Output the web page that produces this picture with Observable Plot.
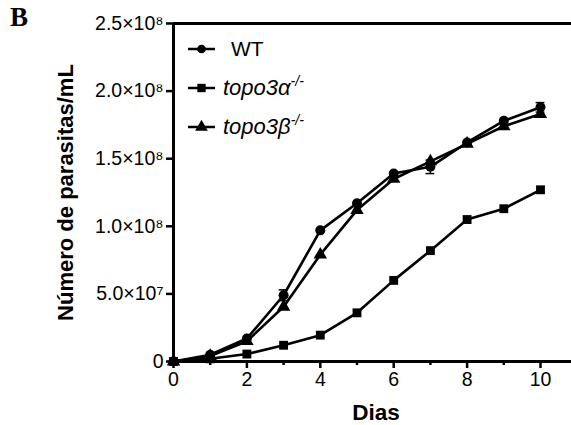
<!DOCTYPE html>
<html>
<head>
<meta charset="utf-8">
<script src="https://cdn.jsdelivr.net/npm/d3@7"></script>
<script src="https://cdn.jsdelivr.net/npm/@observablehq/plot@0.6"></script>
<style>
  body { margin: 0; background: #fff; }
  #wrap { position: relative; width: 571px; height: 425px; font-family: "Liberation Sans", Arial, sans-serif; }
  #wrap svg { position: absolute; left: 0; top: 0; }
  g[aria-label="y-axis label"] text { font-weight: bold; font-size: 22px !important; }
  #panel { position: absolute; left: 10px; top: 4px; font-family: "Liberation Serif", "Times New Roman", serif; font-weight: bold; font-size: 27px; line-height: 1; }
  #legend { position: absolute; left: 186px; top: 36px; font-size: 21px; }
  .row { position: absolute; left: 0; white-space: nowrap; height: 26px; line-height: 26px; }
  .row svg { position: absolute; left: 0; top: 0; }
  .row span { position: absolute; top: 0; }
  .row i { font-size: 22px; }
  sup { font-size: 14px; vertical-align: 0; position: relative; top: -9px; font-style: italic; }
</style>
</head>
<body>
<div id="wrap">
  <div id="panel">B</div>
  <div id="legend"></div>
</div>
<script>
const days = [0, 1, 2, 3, 4, 5, 6, 7, 8, 9, 10];
const wt = [0, 5e6, 1.7e7, 4.9e7, 9.7e7, 1.17e8, 1.39e8, 1.44e8, 1.62e8, 1.78e8, 1.88e8];
const wtErr = [0, 0, 0, 4e6, 0, 0, 0, 5e6, 0, 0, 3.5e6];
const topo3a = [0, 2e6, 5.5e6, 1.2e7, 1.95e7, 3.6e7, 6.0e7, 8.2e7, 1.05e8, 1.13e8, 1.27e8];
const topo3b = [0, 4e6, 1.5e7, 4.05e7, 7.9e7, 1.12e8, 1.35e8, 1.48e8, 1.61e8, 1.74e8, 1.83e8];
const seriesNames = ["WT", "topo3α", "topo3β"];
const symbols = ["circle", "square", "triangle"];
const yTicks = [0, 5e7, 1e8, 1.5e8, 2e8, 2.5e8];
const yTickLabels = ["0", "5.0×10⁷", "1.0×10⁸", "1.5×10⁸", "2.0×10⁸", "2.5×10⁸"];
const xMajor = [0, 2, 4, 6, 8, 10];
const xMinor = [1, 3, 5, 7, 9];
const xLabel = "Dias";
const yLabel = "Número de parasitas/mL";

const rows = [];
[wt, topo3a, topo3b].forEach((vals, s) => {
  days.forEach((d, i) => rows.push({series: seriesNames[s], day: d, value: vals[i], err: s === 0 ? wtErr[i] : 0}));
});
const errRows = rows.filter(r => r.err > 0);
const caps = errRows.flatMap(r => [{day: r.day, y: r.value - r.err}, {day: r.day, y: r.value + r.err}]);

const plot = Plot.plot({
  width: 571,
  height: 425,
  marginLeft: 173,
  marginRight: 31,
  marginTop: 23,
  marginBottom: 64,
  style: {fontFamily: "'Liberation Sans', Arial, sans-serif", fontSize: "19px", color: "#000", background: "transparent"},
  x: {type: "linear", domain: [0, 10]},
  y: {type: "linear", domain: [0, 2.5e8]},
  marks: [
    Plot.axisY({ticks: yTicks, tickFormat: d => yTickLabels[yTicks.indexOf(d)], tickSize: 7, strokeWidth: 2.5, tickPadding: 3, fontSize: 19.5,
      label: yLabel, labelAnchor: "center", labelArrow: false, labelOffset: 116}),
    Plot.axisX({ticks: xMajor, tickSize: 7, strokeWidth: 2.5, tickPadding: 4, fontSize: 19.5, label: null}),
    Plot.axisX({ticks: xMinor, tickSize: 4, strokeWidth: 2.5, text: null, label: null}),
    Plot.text([xLabel], {text: d => d, frameAnchor: "bottom", lineAnchor: "bottom", dx: 19, dy: 58, fontSize: 22.5, fontWeight: "bold"}),
    Plot.ruleX([0], {y1: 0, y2: 2.5e8, strokeWidth: 3}),
    Plot.ruleY([0], {x1: 0, x2: 10.86, strokeWidth: 3, clip: false}),
    Plot.ruleY([2.5e8], {x1: 0, x2: 10.86, strokeWidth: 3, clip: false}),
    Plot.ruleX(errRows, {x: "day", y1: d => d.value - d.err, y2: d => d.value + d.err, strokeWidth: 1.5}),
    Plot.ruleY(caps, {y: "y", x1: d => d.day - 0.12, x2: d => d.day + 0.12, strokeWidth: 1.5}),
    Plot.line(rows, {x: "day", y: "value", z: "series", stroke: "#000", strokeWidth: 2.6}),
    Plot.dot(rows, {x: "day", y: "value", symbol: d => symbols[seriesNames.indexOf(d.series)], r: 5, fill: "#000", stroke: "none"})
  ]
});
document.getElementById("wrap").appendChild(plot);

// Legend
const legend = document.getElementById("legend");
const tops = [0, 39, 78];
const labelsHtml = ["WT", "<i>topo3α</i><sup>-/-</sup>", "<i>topo3β</i><sup>-/-</sup>"];
const labelLeft = [45, 37, 37];
seriesNames.forEach((name, i) => {
  const row = document.createElement("div");
  row.className = "row";
  row.style.top = tops[i] + "px";
  const sym = d3.symbol(i === 0 ? d3.symbolCircle : i === 1 ? d3.symbolSquare : d3.symbolTriangle, i === 0 ? 60 : 70)();
  row.innerHTML = `<svg width="34" height="26"><line x1="2" x2="29" y1="13" y2="13" stroke="#000" stroke-width="2.5"/><path d="${sym}" transform="translate(15.5,13)" fill="#000"/></svg><span style="left:${labelLeft[i]}px">${labelsHtml[i]}</span>`;
  legend.appendChild(row);
});
</script>
</body>
</html>
